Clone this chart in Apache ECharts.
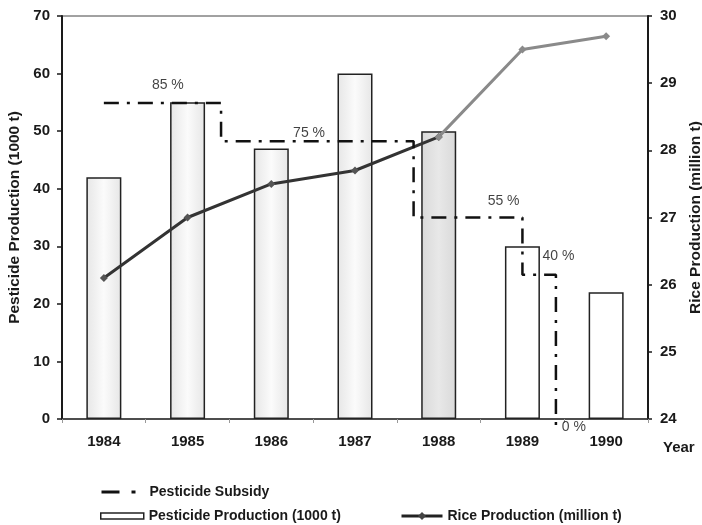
<!DOCTYPE html>
<html>
<head>
<meta charset="utf-8">
<script src="https://cdn.jsdelivr.net/npm/echarts@6/dist/echarts.min.js"></script>
<style>
  html, body { margin: 0; padding: 0; background: #fff; }
  #chart { width: 702px; height: 525px; }
</style>
</head>
<body>
<div id="chart"></div>
<script>
// Years on the category axis
const years = ['1984', '1985', '1986', '1987', '1988', '1989', '1990'];
// Pesticide production, 1000 t (left axis)
const pesticideProduction = [42, 55, 47, 60, 50, 30, 22];
// Rice production, million t (right axis)
const riceProduction = [26.1, 27.0, 27.5, 27.7, 28.2, 29.5, 29.7];
// Pesticide subsidy: year each rate takes effect, and the rate in %
const subsidyFrom = [1984, 1985.4, 1987.7, 1989.0, 1989.4];
const subsidyRate = [85, 75, 55, 40, 0];

const FONT = '"Liberation Sans", Arial, Helvetica, sans-serif';
const INK = '#1a1a1a';

const chart = echarts.init(document.getElementById('chart'), null, { renderer: 'canvas' });

// Bars up to 1988 carry a soft grey fill, later years are plain
function barFill(i) {
  if (i >= 5) return '#ffffff';
  const edge = i === 4 ? '#d9d9d9' : '#e6e6e6';
  const mid = i === 4 ? '#e8e8e8' : '#fbfbfb';
  return new echarts.graphic.LinearGradient(0, 0, 1, 0, [
    { offset: 0, color: edge },
    { offset: 0.5, color: mid },
    { offset: 1, color: edge }
  ]);
}

// Step path for the subsidy rate
const subsidyPoints = subsidyFrom.map((x, i) => [x, subsidyRate[i]]);
// Where each rate label sits relative to the start of its step (px)
const labelOffsets = [[64, -18], [88, -8], [90, -16], [36, -19], [18, 0]];

const SUBSIDY = 'Pesticide Subsidy';
const PEST = 'Pesticide Production (1000 t)';
const RICE = 'Rice Production (million t)';

const legendText = { fontFamily: FONT, fontSize: 14, fontWeight: 'bold', color: INK };

const option = {
  animation: false,
  backgroundColor: '#ffffff',
  textStyle: { fontFamily: FONT },
  grid: {
    left: 62, right: 54, top: 16, bottom: 106,
    containLabel: false,
    outerBoundsMode: 'none',
    show: true, borderColor: '#444', borderWidth: 1, backgroundColor: 'transparent'
  },
  legend: [
    {
      data: [{
        name: SUBSIDY,
        itemStyle: { opacity: 0 },
        lineStyle: { color: '#111', width: 3, type: [18, 12, 4, 12] }
      }],
      left: 95, top: 480, itemWidth: 34, itemHeight: 10,
      textStyle: Object.assign({ padding: [0, 0, 0, 9] }, legendText)
    },
    {
      data: [{
        name: PEST,
        icon: 'rect',
        itemStyle: { color: '#ffffff', borderColor: '#222', borderWidth: 1.5 }
      }],
      left: 95, top: 504, itemWidth: 43, itemHeight: 6,
      textStyle: legendText
    },
    {
      data: [{
        name: RICE,
        itemStyle: { color: '#444' },
        lineStyle: { color: '#222', width: 3 }
      }],
      left: 395, top: 504, itemWidth: 41, itemHeight: 10,
      textStyle: legendText
    }
  ],
  xAxis: [
    {
      type: 'category',
      data: years,
      boundaryGap: true,
      name: 'Year',
      nameLocation: 'end',
      nameGap: 15,
      nameTextStyle: { fontFamily: FONT, fontSize: 15, fontWeight: 'bold', color: INK, verticalAlign: 'top', padding: [21, 0, 0, 0] },
      axisLine: { lineStyle: { color: '#333', width: 1.5 } },
      axisTick: { show: true, interval: 0, length: 4, lineStyle: { color: '#999' } },
      axisLabel: { margin: 15, fontFamily: FONT, fontSize: 15, fontWeight: 'bold', color: INK },
      splitLine: { show: false }
    },
    {
      type: 'value',
      min: 1983.5, max: 1990.5,
      show: false
    }
  ],
  yAxis: [
    {
      type: 'value',
      min: 0, max: 70, interval: 10,
      name: PEST,
      nameLocation: 'middle',
      nameRotate: 90,
      nameGap: 39,
      nameTextStyle: { fontFamily: FONT, fontSize: 15.5, fontWeight: 'bold', color: INK },
      axisLine: { show: true, lineStyle: { color: INK, width: 2 } },
      axisTick: { show: true, length: 5, lineStyle: { color: INK, width: 1.5 } },
      axisLabel: { margin: 12, fontFamily: FONT, fontSize: 15, fontWeight: 'bold', color: INK },
      splitLine: { show: false }
    },
    {
      type: 'value',
      position: 'right',
      min: 24, max: 30, interval: 1,
      name: RICE,
      nameLocation: 'middle',
      nameRotate: 90,
      nameGap: 34,
      nameTextStyle: { fontFamily: FONT, fontSize: 15.5, fontWeight: 'bold', color: INK },
      axisLine: { show: true, lineStyle: { color: INK, width: 2 } },
      axisTick: { show: true, length: 4, lineStyle: { color: INK, width: 1.5 } },
      axisLabel: { margin: 12, fontFamily: FONT, fontSize: 15, fontWeight: 'bold', color: INK },
      splitLine: { show: false }
    },
    {
      type: 'value',
      min: 2.2, max: 107.8,
      show: false
    }
  ],
  series: [
    {
      name: PEST,
      type: 'bar',
      data: pesticideProduction,
      barWidth: 35,
      z: 1,
      itemStyle: {
        color: (p) => barFill(p.dataIndex),
        borderColor: '#222',
        borderWidth: 1.5
      }
    },
    {
      name: RICE,
      type: 'line',
      yAxisIndex: 1,
      data: riceProduction.map((v, i) => (i <= 4 ? v : '-')),
      symbol: 'diamond',
      symbolSize: 8,
      z: 4,
      lineStyle: { color: '#333', width: 3 },
      itemStyle: { color: '#555' }
    },
    {
      name: RICE,
      type: 'line',
      yAxisIndex: 1,
      data: riceProduction.map((v, i) => (i >= 4 ? v : '-')),
      symbol: 'diamond',
      symbolSize: 8,
      z: 4,
      lineStyle: { color: '#8a8a8a', width: 3 },
      itemStyle: { color: '#8a8a8a' }
    },
    {
      name: SUBSIDY,
      type: 'line',
      xAxisIndex: 1,
      yAxisIndex: 2,
      data: subsidyPoints,
      step: 'end',
      clip: false,
      symbol: 'none',
      z: 5,
      color: '#111',
      lineStyle: { color: '#111', width: 2.5, type: [15, 8, 3, 8] }
    },
    {
      type: 'scatter',
      xAxisIndex: 1,
      yAxisIndex: 2,
      data: subsidyPoints,
      symbolSize: 0,
      clip: false,
      silent: true,
      z: 6,
      label: {
        show: true,
        position: 'inside',
        align: 'center',
        verticalAlign: 'middle',
        fontFamily: FONT,
        fontSize: 14,
        color: '#111',
        formatter: (p) => p.value[1] + ' %'
      },
      labelLayout: (p) => {
        const o = labelOffsets[p.dataIndex];
        return { dx: o[0], dy: o[1] };
      }
    }
  ]
};

chart.setOption(option);
</script>
</body>
</html>
